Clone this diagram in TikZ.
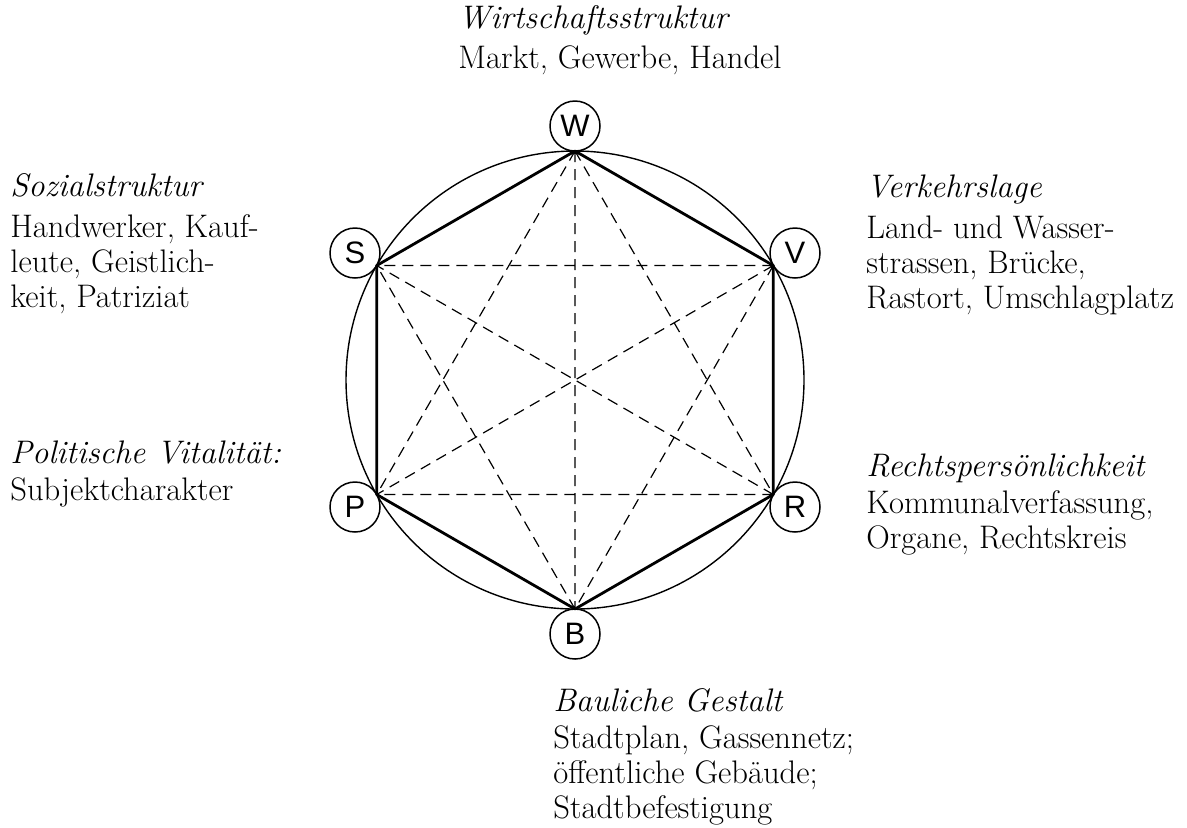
\documentclass[tikz,border=0pt]{standalone}
\usepackage{fontspec}
\newfontfamily\lettfont{Liberation Sans}
\begin{document}
\begin{tikzpicture}[x=0.5pt,y=-0.5pt,
  hexline/.style={line width=1.4pt, line join=round},
  diag/.style={line width=0.6pt, dash pattern=on 5.5pt off 3.5pt},
  ring/.style={line width=0.7pt},
  letter/.style={circle, draw, line width=0.75pt, minimum size=25pt, inner sep=0pt,
                 font=\lettfont\fontsize{15.5}{15.5}\selectfont},
  lab/.style={anchor=base west, inner sep=0pt, align=left,
              font=\fontsize{16.3}{17.5}\selectfont}
]
\useasboundingbox (0,0) rectangle (1187,827);
\coordinate (O) at (575,380);
\draw[ring] (O) circle [radius=114.5pt];
% hexagon vertices
\coordinate (vW) at (575,151);
\coordinate (vV) at (773.3,265.5);
\coordinate (vR) at (773.3,494.5);
\coordinate (vB) at (575,609);
\coordinate (vP) at (376.7,494.5);
\coordinate (vS) at (376.7,265.5);
% diagonals
\draw[diag] (vW) -- (vB) (vV) -- (vP) (vR) -- (vS)
            (vW) -- (vR) (vW) -- (vP) (vV) -- (vB) (vV) -- (vS)
            (vR) -- (vP) (vB) -- (vS);
% hexagon
\draw[hexline] (vW) -- (vV) -- (vR) -- (vB) -- (vP) -- (vS) -- cycle;
% letter circles
\node[letter] (W) at (575,126) {W};
\node[letter] (V) at (795,253) {V};
\node[letter] (R) at (795,507) {R};
\node[letter] (B) at (575,634) {B};
\node[letter] (P) at (355,507) {P};
\node[letter] (S) at (355,253) {S};
% labels (anchor = baseline of the last line)
\node[lab] (tW) at (458,68) {\textit{Wirtschaftsstruktur}\\[2.5pt]Markt, Gewerbe, Handel};
\node[lab] (tS) at (10,307) {\textit{Sozialstruktur}\\[3pt]Handwerker, Kauf-\\leute, Geistlich-\\keit, Patriziat};
\node[lab] (tV) at (866,308) {\textit{Verkehrslage}\\[3pt]Land- und Wasser-\\strassen, Brücke,\\Rastort, Umschlagplatz};
\node[lab] (tP) at (10,500) {\textit{Politische Vitalität:}\\[1pt]Subjektcharakter};
\node[lab] (tR) at (866,548) {\textit{Rechtspersönlichkeit}\\[1pt]Kommunalverfassung,\\Organe, Rechtskreis};
\node[lab] (tB) at (553,818) {\textit{Bauliche Gestalt}\\[1pt]Stadtplan, Gassennetz;\\öffentliche Gebäude;\\Stadtbefestigung};
\end{tikzpicture}
\end{document}
